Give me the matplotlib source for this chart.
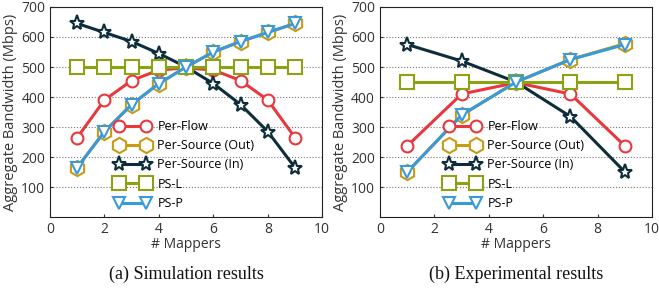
import matplotlib
matplotlib.use('Agg')
import matplotlib.pyplot as plt

matplotlib.rcParams['font.family'] = ['Open Sans', 'DejaVu Sans']
matplotlib.rcParams['font.size'] = 10

# 数据
labels = ['Per-Flow', 'Per-Source (Out)', 'Per-Source (In)', 'PS-L', 'PS-P']

sim_x = [1, 2, 3, 4, 5, 6, 7, 8, 9]
sim_flow = [265, 390, 455, 490, 497, 490, 455, 390, 265]
sim_out = [165, 285, 375, 445, 500, 550, 585, 615, 645]
sim_in = [645, 615, 585, 545, 500, 445, 375, 285, 165]
sim_psl = [500, 500, 500, 500, 500, 500, 500, 500, 500]
sim_psp = [165, 285, 375, 445, 500, 550, 585, 615, 645]

exp_x = [1, 3, 5, 7, 9]
exp_flow = [237, 410, 448, 410, 237]
exp_out = [150, 340, 450, 525, 578]
exp_in = [575, 520, 450, 335, 150]
exp_psl = [450, 450, 450, 450, 450]
exp_psp = [150, 340, 450, 525, 575]

captions = ['(a) Simulation results', '(b) Experimental results']

# 样式
styles = [
    dict(color='#e8383d', marker='o', ms=8.5, mfc='white', mec='#e8383d', mew=1.5),
    dict(color='#c89b14', marker='h', ms=11, mfc='white', mec='#c89b14', mew=1.5),
    dict(color='#0e2d3a', marker='*', ms=11, mfc='white', mec='#0e2d3a', mew=1.5),
    dict(color='#8aa312', marker='s', ms=9.5, mfc='white', mec='#8aa312', mew=1.5),
    dict(color='#3a9ad9', marker='v', ms=9, mfc='white', mec='#3a9ad9', mew=1.5),
]

fig = plt.figure(figsize=(6.59, 2.91), dpi=100)
ax1 = fig.add_axes([0.0759, 0.254, 0.413, 0.722])
ax2 = fig.add_axes([0.5766, 0.254, 0.413, 0.722])

panels = [
    (ax1, sim_x, [sim_flow, sim_out, sim_in, sim_psl, sim_psp]),
    (ax2, exp_x, [exp_flow, exp_out, exp_in, exp_psl, exp_psp]),
]

for i, (ax, xs, series) in enumerate(panels):
    for ys, lab, st in zip(series, labels, styles):
        ax.plot(xs, ys, lw=2.2, label=lab, **st)
    ax.set_xlim(0, 10)
    ax.set_ylim(0, 700)
    ax.set_xticks([0, 2, 4, 6, 8, 10])
    ax.set_yticks([100, 200, 300, 400, 500, 600, 700])
    ax.yaxis.grid(True, linestyle=':', color='#777777', lw=0.8)
    ax.set_axisbelow(True)
    ax.tick_params(direction='in', length=2, labelsize=10, colors='#333333')
    for sp in ax.spines.values():
        sp.set_color('#222222')
        sp.set_linewidth(0.8)
    ax.set_xlabel('# Mappers', fontsize=10, labelpad=0, color='#333333')
    ax.set_ylabel('Aggregate Bandwidth (Mbps)', fontsize=10.5, labelpad=2, color='#333333')
    ax.legend(loc='lower left', bbox_to_anchor=(0.22, 0.01), frameon=False,
              numpoints=2, fontsize=9, handlelength=2.8, handletextpad=0.6,
              labelspacing=0.5, borderaxespad=0)
    ax.text(0.5, -0.23, captions[i], transform=ax.transAxes, ha='center', va='top',
            fontsize=13, family=['Liberation Serif', 'DejaVu Serif'], color='#111111')

plt.savefig('out.png', dpi=100)
